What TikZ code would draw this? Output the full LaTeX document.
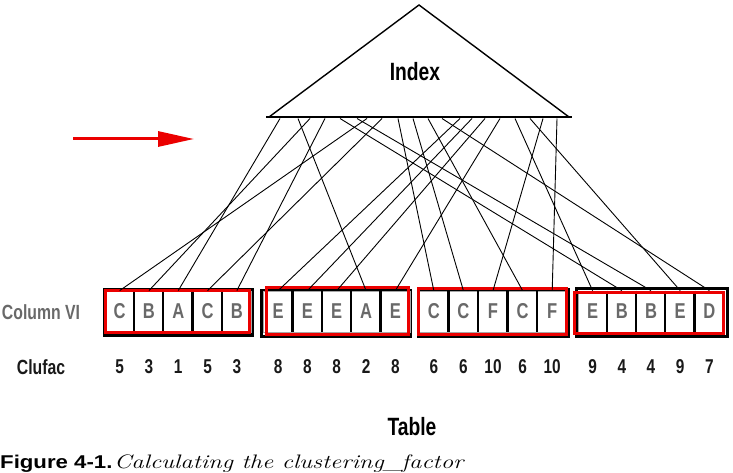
\documentclass[tikz,border=0pt]{standalone}
\usepackage{fontspec}
\newfontfamily\cond{Liberation Sans}[FakeStretch=0.77]
\newfontfamily\capsans{Liberation Sans}[FakeStretch=1.2]
\newfontfamily\capserif{Latin Modern Roman}[FakeStretch=1.27]
\usetikzlibrary{arrows.meta}
\definecolor{lettergray}{RGB}{105,105,105}
\definecolor{boxred}{RGB}{235,0,0}
\begin{document}
\begin{tikzpicture}[x=1pt,y=-1pt,
  cell/.style={draw=gray!70,line width=0.8pt,minimum width=29.3pt,minimum height=41pt,inner sep=0pt,
    font=\cond\bfseries\fontsize{21.5}{21.5}\selectfont,text=lettergray},
  num/.style={font=\cond\bfseries\fontsize{20}{20}\selectfont,text=black!90,inner sep=0pt},
  divider/.style={line width=2.4pt,black},
  blackbox/.style={draw=black,line width=3pt},
  redbox/.style={draw=boxred,line width=3pt},
  link/.style={line width=0.9pt,black},
  lbl/.style={font=\cond\bfseries\fontsize{20.5}{20.5}\selectfont,inner sep=0pt},
  big/.style={font=\cond\bfseries\fontsize{25}{25}\selectfont,inner sep=0pt}
]
\useasboundingbox (0,0) rectangle (733,473);

% index triangle
\draw[line width=1.4pt,line join=miter] (269,117) -- (419,5) -- (569,117);
\draw[line width=2.6pt] (266,117) -- (572,117);
\node[big] (index) at (415,72) {Index};

% red arrow
\coordinate (as) at (73,139);
\coordinate (ae) at (194,139);
\draw[boxred,line width=3pt,-{Triangle[length=36pt,width=15pt]}] (as) -- (ae);

% group frames (black behind, red in front)
\draw[blackbox] (104,289) rectangle (252,335);
\draw[blackbox] (261,290) rectangle (410,336);
\draw[blackbox] (418,289) rectangle (568,336);
\draw[blackbox] (576,288) rectangle (727,336);

% cells
\foreach \lab [count=\i from 0] in {C,B,A,C,B}
  \node[cell] (a\i) at ({105+29.3*\i+14.65},311.5) {\lab};
\foreach \lab [count=\i from 0] in {E,E,E,A,E}
  \node[cell] (b\i) at ({263.5+29.3*\i+14.65},311.5) {\lab};
\foreach \lab [count=\i from 0] in {C,C,F,C,F}
  \node[cell] (c\i) at ({419+29.6*\i+14.8},311.5) {\lab};
\foreach \lab [count=\i from 0] in {E,B,B,E,D}
  \node[cell] (d\i) at ({578+29.2*\i+14.6},311.5) {\lab};
\foreach \g in {a,b,c,d}
  \foreach \i in {1,...,4}
    \draw[divider] (\g\i.north west) -- (\g\i.south west);

\draw[redbox] (105,290) rectangle (249,332);
\draw[redbox] (266,287) rectangle (408,334);
\draw[redbox] (418,288) rectangle (566,334);
\draw[redbox] (574,292) rectangle (723,333);

% clufac numbers
\foreach \n [count=\i from 0] in {5,3,1,5,3}
  \node[num] (na\i) at ({105+29.3*\i+14.65},367) {\n};
\foreach \n [count=\i from 0] in {8,8,8,2,8}
  \node[num] (nb\i) at ({263.5+29.3*\i+14.65},367) {\n};
\foreach \n [count=\i from 0] in {6,6,10,6,10}
  \node[num] (nc\i) at ({419+29.6*\i+14.8},367) {\n};
\foreach \n [count=\i from 0] in {9,4,4,9,7}
  \node[num] (nd\i) at ({578+29.2*\i+14.6},367) {\n};

% links from index to rows
\foreach \t/\c in {367/a0,310/a1,280/a2,382/a3,325/a4,
                   460/b0,472/b1,485/b2,298/b3,500/b4,
                   398/c0,413/c1,543/c2,428/c3,557/c4,
                   515/d0,340/d1,357/d2,530/d3,442/d4}{
  \coordinate (t\c) at (\t,118.5);
  \draw[link] (t\c) -- (\c.north);
}

% labels
\node[lbl,text=lettergray] (colvi) at (41,312) {Column VI};
\node[lbl,text=black!90] (clufac) at (41,367) {Clufac};
\node[big] (table) at (412,427) {Table};
\node[anchor=base west,inner sep=0pt] (caption) at (0,468)
  {{\capsans\bfseries\fontsize{18.5}{18.5}\selectfont Figure 4-1.}\,{\capserif\itshape\fontsize{19.5}{19.5}\selectfont Calculating the clustering\_factor}};
\end{tikzpicture}
\end{document}
